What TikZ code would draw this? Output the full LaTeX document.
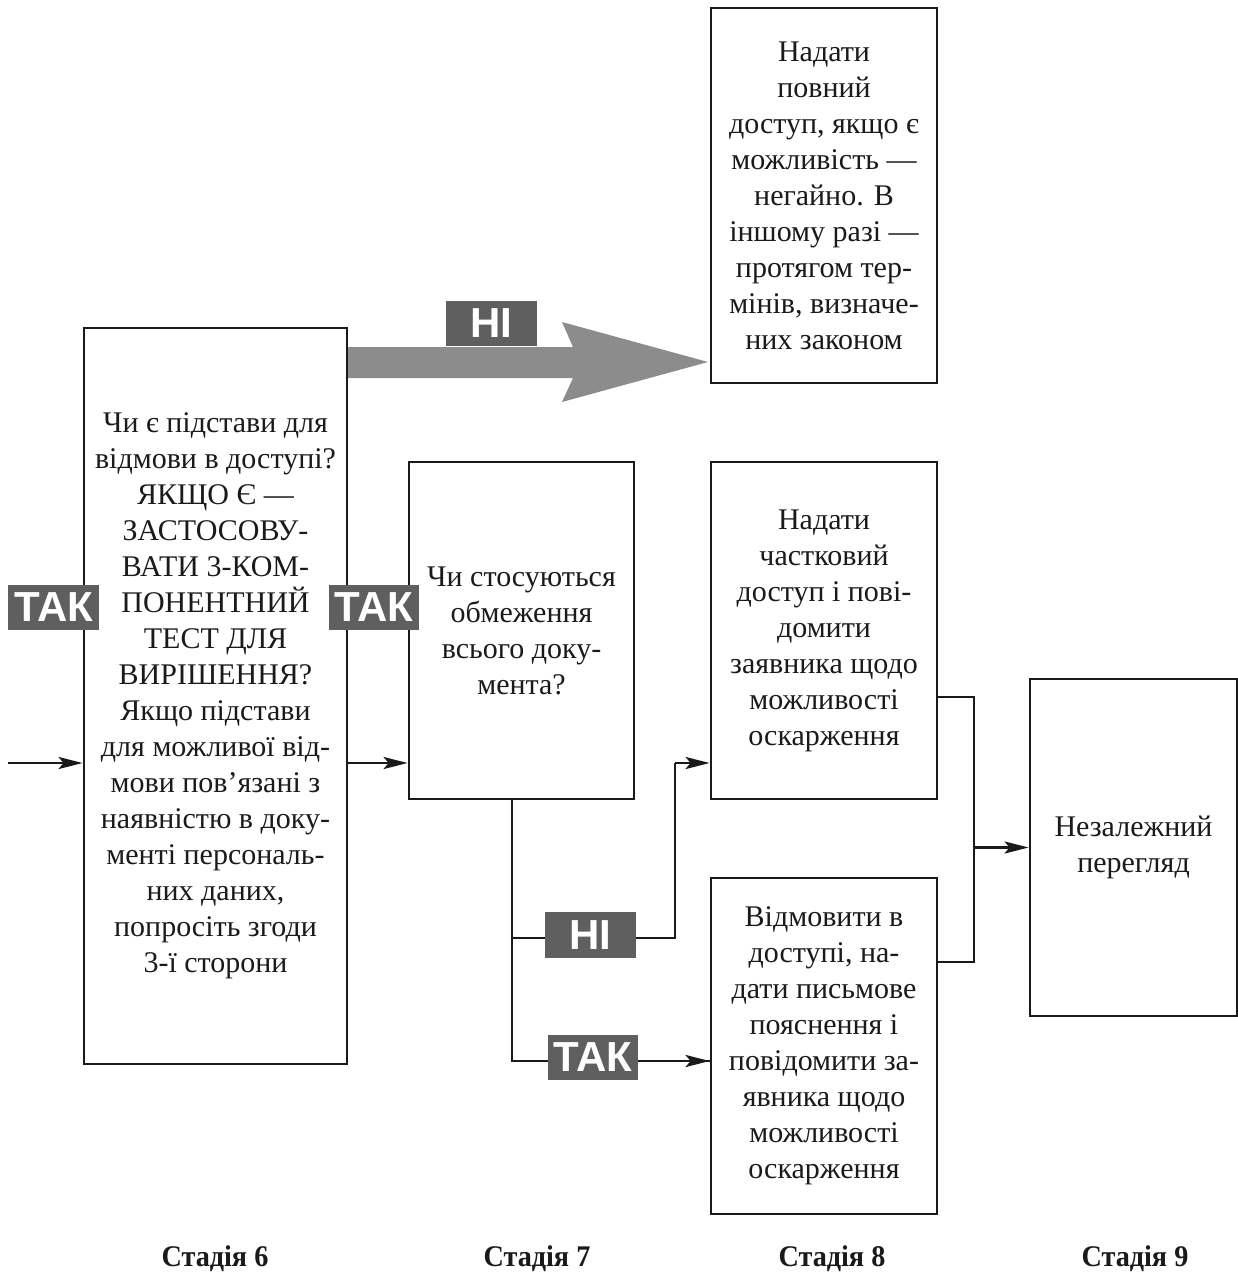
\documentclass[tikz,border=0pt]{standalone}
\usepackage{fontspec}
\setmainfont{Liberation Serif}
\newfontfamily\labfont{Liberation Sans}
\newfontfamily\stagefont{Liberation Serif}[FakeStretch=0.94]
\usetikzlibrary{arrows.meta}
\definecolor{labgray}{HTML}{5F5F5F}
\definecolor{bigarrow}{HTML}{8C8C8C}
\definecolor{ink}{HTML}{1A1A1A}
\tikzset{
  box/.style={draw=ink, line width=2.8pt, inner sep=0pt, align=center,
    font=\fontsize{30}{36}\selectfont, text=ink},
  conn/.style={draw=ink, line width=2.8pt},
  tip/.style={-{Stealth[length=24pt,width=12pt,inset=5pt]}},
  yesno/.style={fill=labgray, text=white, inner sep=0pt,
    font=\labfont\bfseries\fontsize{42}{42}\selectfont},
  stage/.style={font=\stagefont\bfseries\fontsize{30}{32}\selectfont, text=ink}
}
\begin{document}
\begin{tikzpicture}[x=1pt,y=-1pt]
\useasboundingbox (0,0) rectangle (1238,1278);

% big grey arrow
\fill[bigarrow] (347,347) -- (573,347) -- (562,322) -- (708,362) -- (562,402) -- (573,378) -- (347,378) -- cycle;

% boxes
\node[box, minimum width=263pt, minimum height=736pt] (A) at (215.5,696)
 {Чи є підстави для\\відмови в доступі?\\ЯКЩО Є —\\ЗАСТОСОВУ-\\ВАТИ 3-КОМ-\\ПОНЕНТНИЙ\\ТЕСТ ДЛЯ\\ВИРІШЕННЯ?\\Якщо підстави\\для можливої від-\\мови пов’язані з\\наявністю в доку-\\менті персональ-\\них даних,\\попросіть згоди\\3-ї сторони};
\node[box, minimum width=226pt, minimum height=375pt] (R) at (824,195.5)
 {Надати\\повний\\доступ, якщо є\\можливість —\\негайно. В\\іншому разі —\\протягом тер-\\мінів, визначе-\\них законом};
\node[box, minimum width=225pt, minimum height=337pt] (B) at (521.5,630.5)
 {Чи стосуються\\обмеження\\всього доку-\\мента?};
\node[box, minimum width=226pt, minimum height=337pt] (C) at (824,630.5)
 {Надати\\частковий\\доступ і пові-\\домити\\заявника щодо\\можливості\\оскарження};
\node[box, minimum width=226pt, minimum height=336pt] (D) at (824,1046)
 {Відмовити в\\доступі, на-\\дати письмове\\пояснення і\\повідомити за-\\явника щодо\\можливості\\оскарження};
\node[box, minimum width=207pt, minimum height=337pt] (E) at (1133.5,847.5)
 {Незалежний\\перегляд};

% coordinates
\coordinate (in) at (8,763);
\coordinate (j) at (512,1061);
\coordinate (jn) at (512,938);
\coordinate (k) at (675,763);
\coordinate (kn) at (675,938);
\coordinate (r1) at (974,697);
\coordinate (r2) at (974,962);
\coordinate (rm) at (974,847.5);

% connectors
\draw[conn, tip] (in) -- (in -| A.west);
\draw[conn, tip] (A.east |- in) -- (B.west |- in);
\draw[conn] (j |- B.south) -- (j) -- (D.west |- j);
\draw[conn, tip] (j) -- (D.west |- j);
\draw[conn] (jn) -- (kn) -- (k);
\draw[conn, tip] (k) -- (k -| C.west);
\draw[conn] (C.east |- r1) -- (r1) -- (r2) -- (D.east |- r2);
\draw[conn, tip] (rm) -- (E.west);

% labels
\node[yesno, minimum width=91pt, minimum height=45pt] (t1) at (53.5,607) {ТАК};
\node[yesno, minimum width=90pt, minimum height=45pt] (t2) at (374,607) {ТАК};
\node[yesno, minimum width=91pt, minimum height=45pt] (n1) at (491.5,323.5) {НІ};
\node[yesno, minimum width=91pt, minimum height=46pt] (n2) at (590.5,935) {НІ};
\node[yesno, minimum width=90pt, minimum height=45pt] (t3) at (593,1057.5) {ТАК};

% stage labels
\node[stage] (s6) at (215,1259) {Стадія 6};
\node[stage] (s7) at (537,1259) {Стадія 7};
\node[stage] (s8) at (832,1259) {Стадія 8};
\node[stage] (s9) at (1135,1259) {Стадія 9};
\end{tikzpicture}
\end{document}
